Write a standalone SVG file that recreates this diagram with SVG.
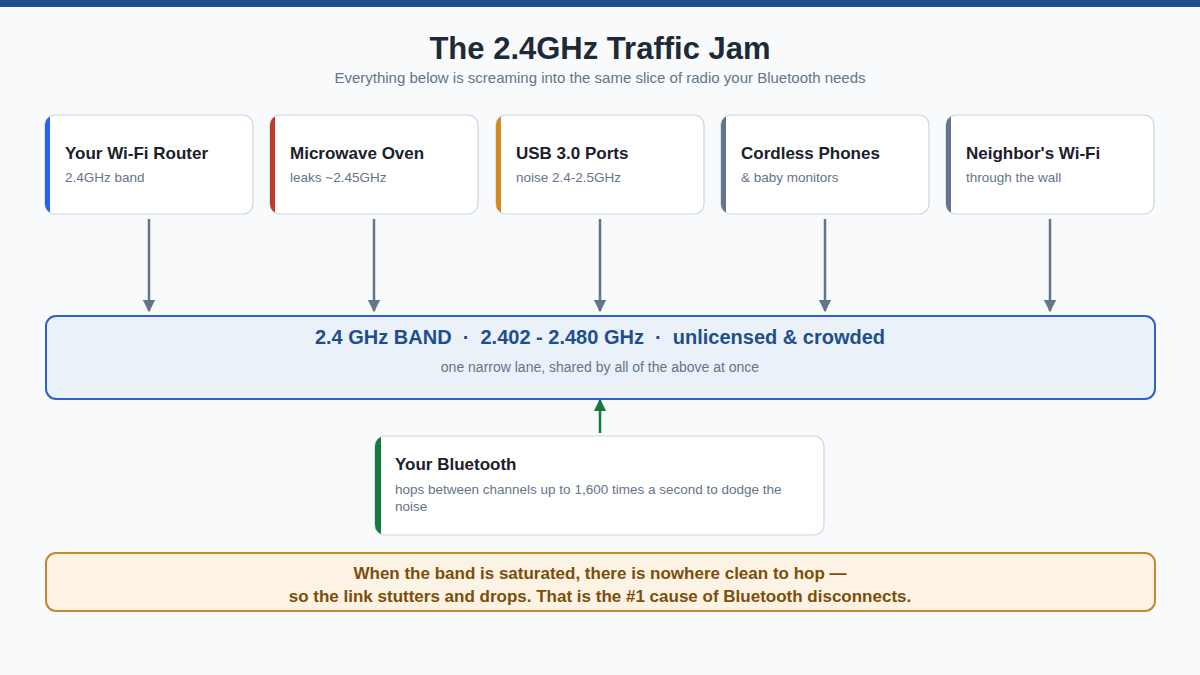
<svg xmlns="http://www.w3.org/2000/svg" width="1200" height="675" viewBox="0 0 1200 675">
<defs>
<style>
text{font-family:"Liberation Sans",Arial,sans-serif}
.card{fill:#ffffff;stroke:#cbd5e1;stroke-width:1.2}
.t{font-size:17px;font-weight:bold;fill:#1a202c}
.s{font-size:13.5px;fill:#64748b}
.conn{stroke:#64748b;stroke-width:2.5;fill:none}
</style>
<marker id="ah" viewBox="0 0 10 10" refX="9" refY="5" markerWidth="5" markerHeight="5" markerUnits="strokeWidth" orient="auto"><path d="M0,0 L10,5 L0,10 z" fill="#64748b"/></marker>
<marker id="ahg" viewBox="0 0 10 10" refX="9" refY="5" markerWidth="5" markerHeight="5" markerUnits="strokeWidth" orient="auto"><path d="M0,0 L10,5 L0,10 z" fill="#157a3e"/></marker>
<clipPath id="c1"><rect x="45" y="115" width="208" height="99" rx="10"/></clipPath>
<clipPath id="c2"><rect x="270" y="115" width="208" height="99" rx="10"/></clipPath>
<clipPath id="c3"><rect x="496" y="115" width="208" height="99" rx="10"/></clipPath>
<clipPath id="c4"><rect x="721" y="115" width="208" height="99" rx="10"/></clipPath>
<clipPath id="c5"><rect x="946" y="115" width="208" height="99" rx="10"/></clipPath>
<clipPath id="c6"><rect x="375" y="436" width="449" height="99" rx="10"/></clipPath>
</defs>
<rect width="1200" height="675" fill="#f8fafc"/>
<rect width="1200" height="7" fill="#1e4f8a"/>
<text x="600" y="59" text-anchor="middle" font-size="31" font-weight="bold" fill="#1e2a36">The 2.4GHz Traffic Jam</text>
<text x="600" y="83" text-anchor="middle" font-size="15" fill="#64748b">Everything below is screaming into the same slice of radio your Bluetooth needs</text>

<g id="connectors">
<line class="conn" x1="149" y1="219" x2="149" y2="311" marker-end="url(#ah)"/>
<line class="conn" x1="374" y1="219" x2="374" y2="311" marker-end="url(#ah)"/>
<line class="conn" x1="600" y1="219" x2="600" y2="311" marker-end="url(#ah)"/>
<line class="conn" x1="825" y1="219" x2="825" y2="311" marker-end="url(#ah)"/>
<line class="conn" x1="1050" y1="219" x2="1050" y2="311" marker-end="url(#ah)"/>
<line x1="600" y1="433" x2="600" y2="400" stroke="#157a3e" stroke-width="2.5" marker-end="url(#ahg)"/>
</g>

<g id="router">
<rect class="card" x="45" y="115" width="208" height="99" rx="10"/>
<rect x="45" y="115" width="5" height="99" fill="#2563eb" clip-path="url(#c1)"/>
<text class="t" x="65" y="159">Your Wi-Fi Router</text>
<text class="s" x="65" y="182">2.4GHz band</text>
</g>
<g id="microwave">
<rect class="card" x="270" y="115" width="208" height="99" rx="10"/>
<rect x="270" y="115" width="5" height="99" fill="#c0392b" clip-path="url(#c2)"/>
<text class="t" x="290" y="159">Microwave Oven</text>
<text class="s" x="290" y="182">leaks ~2.45GHz</text>
</g>
<g id="usb">
<rect class="card" x="496" y="115" width="208" height="99" rx="10"/>
<rect x="496" y="115" width="5" height="99" fill="#d08a1e" clip-path="url(#c3)"/>
<text class="t" x="516" y="159">USB 3.0 Ports</text>
<text class="s" x="516" y="182">noise 2.4-2.5GHz</text>
</g>
<g id="cordless">
<rect class="card" x="721" y="115" width="208" height="99" rx="10"/>
<rect x="721" y="115" width="5" height="99" fill="#64748b" clip-path="url(#c4)"/>
<text class="t" x="741" y="159">Cordless Phones</text>
<text class="s" x="741" y="182">&amp; baby monitors</text>
</g>
<g id="neighbor">
<rect class="card" x="946" y="115" width="208" height="99" rx="10"/>
<rect x="946" y="115" width="5" height="99" fill="#64748b" clip-path="url(#c5)"/>
<text class="t" x="966" y="159">Neighbor's Wi-Fi</text>
<text class="s" x="966" y="182">through the wall</text>
</g>

<g id="band">
<rect x="46" y="316" width="1109" height="83" rx="10" fill="#eaf1f9" stroke="#2f62c8" stroke-width="2"/>
<text x="600" y="344" text-anchor="middle" font-size="20" font-weight="bold" fill="#1e4f8a" xml:space="preserve">2.4 GHz BAND  ·  2.402 - 2.480 GHz  ·  unlicensed &amp; crowded</text>
<text x="600" y="372" text-anchor="middle" font-size="14" fill="#64748b">one narrow lane, shared by all of the above at once</text>
</g>

<g id="bluetooth">
<rect class="card" x="375" y="436" width="449" height="99" rx="10"/>
<rect x="375" y="436" width="6" height="99" fill="#157a3e" clip-path="url(#c6)"/>
<text class="t" x="395" y="470">Your Bluetooth</text>
<text class="s" x="395" y="494">hops between channels up to 1,600 times a second to dodge the</text>
<text class="s" x="395" y="511">noise</text>
</g>

<g id="note">
<rect x="46" y="553" width="1109" height="58" rx="10" fill="#fdf3e5" stroke="#c48a2a" stroke-width="2"/>
<text x="600" y="579" text-anchor="middle" font-size="17" font-weight="bold" fill="#7a4f0a">When the band is saturated, there is nowhere clean to hop —</text>
<text x="600" y="602" text-anchor="middle" font-size="17" font-weight="bold" fill="#7a4f0a">so the link stutters and drops. That is the #1 cause of Bluetooth disconnects.</text>
</g>
</svg>
